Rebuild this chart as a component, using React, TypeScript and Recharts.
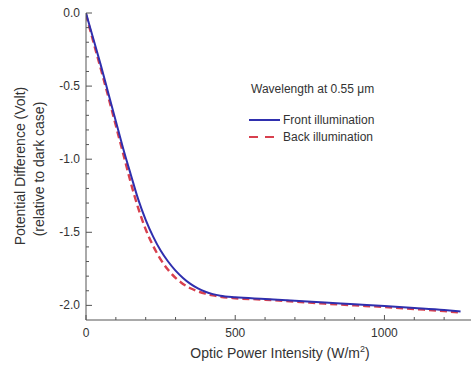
import React from 'react';
import { LineChart, Line, XAxis, YAxis } from 'recharts';

const intensity = [0, 25, 50, 75, 100, 125, 150, 175, 200, 225, 250, 275, 300, 325, 350, 375, 400, 425, 450, 500, 600, 700, 800, 900, 1000, 1100, 1200, 1255];
const frontIllumination = [0, -0.18, -0.36, -0.55, -0.74, -0.93, -1.105, -1.275, -1.415, -1.53, -1.625, -1.7, -1.762, -1.812, -1.853, -1.884, -1.907, -1.923, -1.934, -1.945, -1.956, -1.968, -1.981, -1.993, -2.005, -2.018, -2.032, -2.042];
const backIllumination = [-0.01, -0.2, -0.385, -0.575, -0.77, -0.965, -1.16, -1.335, -1.48, -1.593, -1.685, -1.757, -1.812, -1.853, -1.883, -1.904, -1.92, -1.932, -1.941, -1.951, -1.961, -1.974, -1.988, -2.0, -2.011, -2.025, -2.039, -2.05];

const xTicks = [0, 100, 200, 300, 400, 500, 600, 700, 800, 900, 1000, 1100, 1200];
const xLabels = ['0', '', '', '', '', '500', '', '', '', '', '1000', '', ''];
const yTicks = [0, -0.1, -0.2, -0.3, -0.4, -0.5, -0.6, -0.7, -0.8, -0.9, -1.0, -1.1, -1.2, -1.3, -1.4, -1.5, -1.6, -1.7, -1.8, -1.9, -2.0];
const yLabels = ['0.0', '', '', '', '', '-0.5', '', '', '', '', '-1.0', '', '', '', '', '-1.5', '', '', '', '', '-2.0'];

const data = intensity.map((x, i) => ({ x, front: frontIllumination[i], back: backIllumination[i] }));

const AXIS = '#555';
const TEXT = '#333';
const FONT = 'Liberation Sans, Arial, sans-serif';

const isMajorX = (v: number) => xLabels[xTicks.indexOf(v)] !== '';
const yIdx = (v: number) => yTicks.findIndex((t) => Math.abs(t - v) < 1e-6);
const isMajorY = (v: number) => { const i = yIdx(v); return i >= 0 && yLabels[i] !== ''; };

const BottomTick = (p: any) => {
  const v = p.payload.value;
  const major = isMajorX(v);
  const lbl = xLabels[xTicks.indexOf(v)];
  return (
    <g>
      <line x1={p.x} x2={p.x} y1={p.y} y2={p.y - (major ? 5 : 3)} stroke={AXIS} strokeWidth={1} />
      {lbl ? <text x={p.x} y={p.y + 17} textAnchor="middle" fontSize={12} fill={TEXT} fontFamily={FONT}>{lbl}</text> : null}
    </g>
  );
};
const TopTick = (p: any) => {
  const major = isMajorX(p.payload.value);
  return <line x1={p.x} x2={p.x} y1={p.y} y2={p.y + (major ? 5 : 3)} stroke={AXIS} strokeWidth={1} />;
};
const LeftTick = (p: any) => {
  const v = p.payload.value;
  const major = isMajorY(v);
  const lbl = yLabels[yIdx(v)];
  return (
    <g>
      <line x1={p.x} x2={p.x + (major ? 6 : 3)} y1={p.y} y2={p.y} stroke={AXIS} strokeWidth={1} />
      {lbl ? <text x={p.x - 6} y={p.y + 4} textAnchor="end" fontSize={12} fill={TEXT} fontFamily={FONT}>{lbl}</text> : null}
    </g>
  );
};
const RightTick = (p: any) => {
  const major = isMajorY(p.payload.value);
  return <line x1={p.x} x2={p.x - (major ? 6 : 3)} y1={p.y} y2={p.y} stroke={AXIS} strokeWidth={1} />;
};

const BLUE = '#2f2fae';
const RED = '#d8404e';

export default function App() {
  return (
    <div style={{ position: 'absolute', left: 0, top: 0, width: 473, height: 365, background: '#fff' }}>
      <LineChart width={473} height={365} data={data} margin={{ top: 13, right: 2, bottom: 0, left: 0 }}>
        <XAxis xAxisId="b" dataKey="x" type="number" domain={[0, 1290]} ticks={xTicks} interval={0}
          height={45} tickSize={0} tickMargin={0} tickLine={false} tick={BottomTick} stroke={AXIS} allowDataOverflow />
        <XAxis xAxisId="t" orientation="top" dataKey="x" type="number" domain={[0, 1290]} ticks={xTicks} interval={0}
          height={0} tickSize={0} tickMargin={0} tickLine={false} tick={TopTick} stroke={AXIS} allowDataOverflow />
        <YAxis yAxisId="l" type="number" domain={[-2.1, 0]} ticks={yTicks} interval={0}
          width={86} tickSize={0} tickMargin={0} tickLine={false} tick={LeftTick} stroke={AXIS} allowDataOverflow />
        <YAxis yAxisId="r" orientation="right" type="number" domain={[-2.1, 0]} ticks={yTicks} interval={0}
          width={0} tickSize={0} tickMargin={0} tickLine={false} tick={RightTick} stroke={AXIS} allowDataOverflow />
        <Line xAxisId="b" yAxisId="l" type="monotone" dataKey="back" stroke={RED} strokeWidth={2.4}
          strokeDasharray="7 4" dot={false} isAnimationActive={false} />
        <Line xAxisId="b" yAxisId="l" type="monotone" dataKey="front" stroke={BLUE} strokeWidth={2}
          dot={false} isAnimationActive={false} />
      </LineChart>
      <svg width={473} height={365} style={{ position: 'absolute', left: 0, top: 0, pointerEvents: 'none' }} fontFamily={FONT}>
        <text transform="translate(25,166) rotate(-90)" textAnchor="middle" fontSize={14} fill={TEXT}>Potential Difference (Volt)</text>
        <text transform="translate(44,169) rotate(-90)" textAnchor="middle" fontSize={14} fill={TEXT}>(relative to dark case)</text>
        <text x={280} y={358} textAnchor="middle" fontSize={14} fill={TEXT}>
          Optic Power Intensity (W/m<tspan dy={-6} fontSize={9}>2</tspan><tspan dy={6}>)</tspan>
        </text>
        <text x={251} y={93} fontSize={12} fill={TEXT}>Wavelength at 0.55 μm</text>
        <line x1={249} x2={280} y1={120} y2={120} stroke={BLUE} strokeWidth={2} />
        <text x={283} y={124} fontSize={12} fill={TEXT}>Front illumination</text>
        <line x1={249} x2={280} y1={137} y2={137} stroke={RED} strokeWidth={2.2} strokeDasharray="9 7" />
        <text x={283} y={141} fontSize={12} fill={TEXT}>Back illumination</text>
      </svg>
    </div>
  );
}
